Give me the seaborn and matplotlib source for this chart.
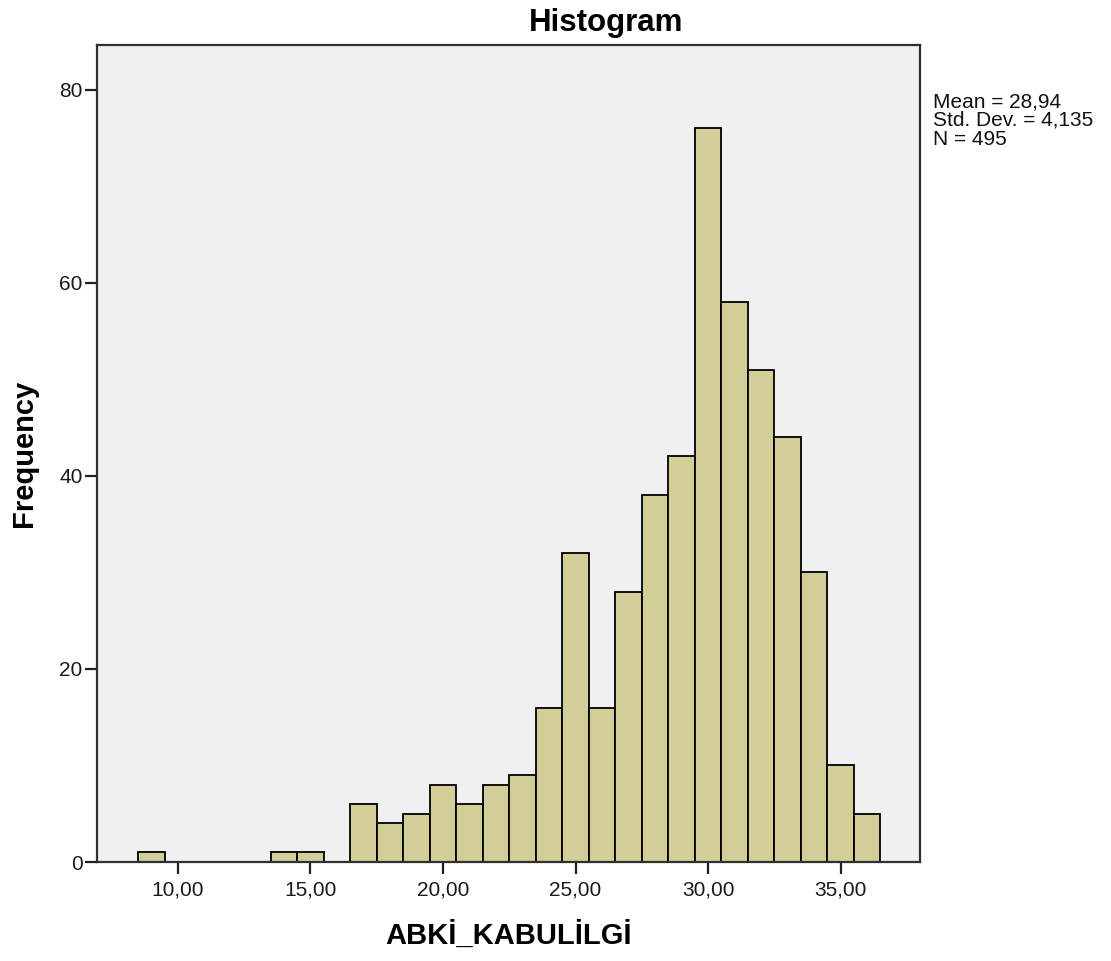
import numpy as np
import pandas as pd
import matplotlib
matplotlib.use("Agg")
import matplotlib.pyplot as plt
import seaborn as sns
from matplotlib.ticker import FuncFormatter

# values (bin centers) and their frequencies
values = [9, 14, 15, 17, 18, 19, 20, 21, 22, 23, 24, 25, 26, 27, 28, 29, 30, 31, 32, 33, 34, 35, 36]
counts = [1, 1, 1, 6, 4, 5, 8, 6, 8, 9, 16, 32, 16, 28, 38, 42, 76, 58, 51, 44, 30, 10, 5]
x_ticks = [10, 15, 20, 25, 30, 35]
y_ticks = [0, 20, 40, 60, 80]
stats_text = "Mean = 28,94\nStd. Dev. = 4,135\nN = 495"

df = pd.DataFrame({"value": values, "count": counts})

sns.set_style("white")
plt.rcParams["font.family"] = ["Liberation Sans", "DejaVu Sans"]
plt.rcParams["text.color"] = "black"

fig = plt.figure(figsize=(11.11, 9.61), dpi=100)
ax = fig.add_axes([0.0873, 0.103, 0.741, 0.850])
ax.set_facecolor("#F0F0F0")

sns.histplot(data=df, x="value", weights="count", bins=list(np.arange(8.5, 37.5, 1)), ax=ax,
             color="#D3CE97", edgecolor="black", linewidth=1.3, alpha=1)

ax.set_xlim(6.95, 38.0)
ax.set_ylim(0, 84.6)
ax.set_xticks(x_ticks)
ax.set_yticks(y_ticks)
ax.xaxis.set_major_formatter(FuncFormatter(lambda v, p: f"{v:.2f}".replace(".", ",")))
ax.tick_params(axis="both", direction="out", length=8.5, width=1.6, color="#202020",
               labelsize=15, labelcolor="#1a1a1a", bottom=True, left=True)
ax.tick_params(axis="x", pad=5)
ax.tick_params(axis="y", pad=2)
for s in ax.spines.values():
    s.set_color("#303030")
    s.set_linewidth(1.6)

fig.text(0.546, 0.968, "Histogram", fontsize=22.5, fontweight="bold", ha="center", va="baseline",
         color="black")
ax.set_xlabel("ABKİ_KABULİLGİ", fontsize=21, fontweight="bold", labelpad=16, color="black")
ax.set_ylabel("Frequency", fontsize=21, fontweight="bold", labelpad=15, color="black")

fig.text(0.840, 0.904, stats_text, fontsize=15, va="top", ha="left", linespacing=0.98,
         color="#111111")

fig.savefig("out.png", dpi=100)
